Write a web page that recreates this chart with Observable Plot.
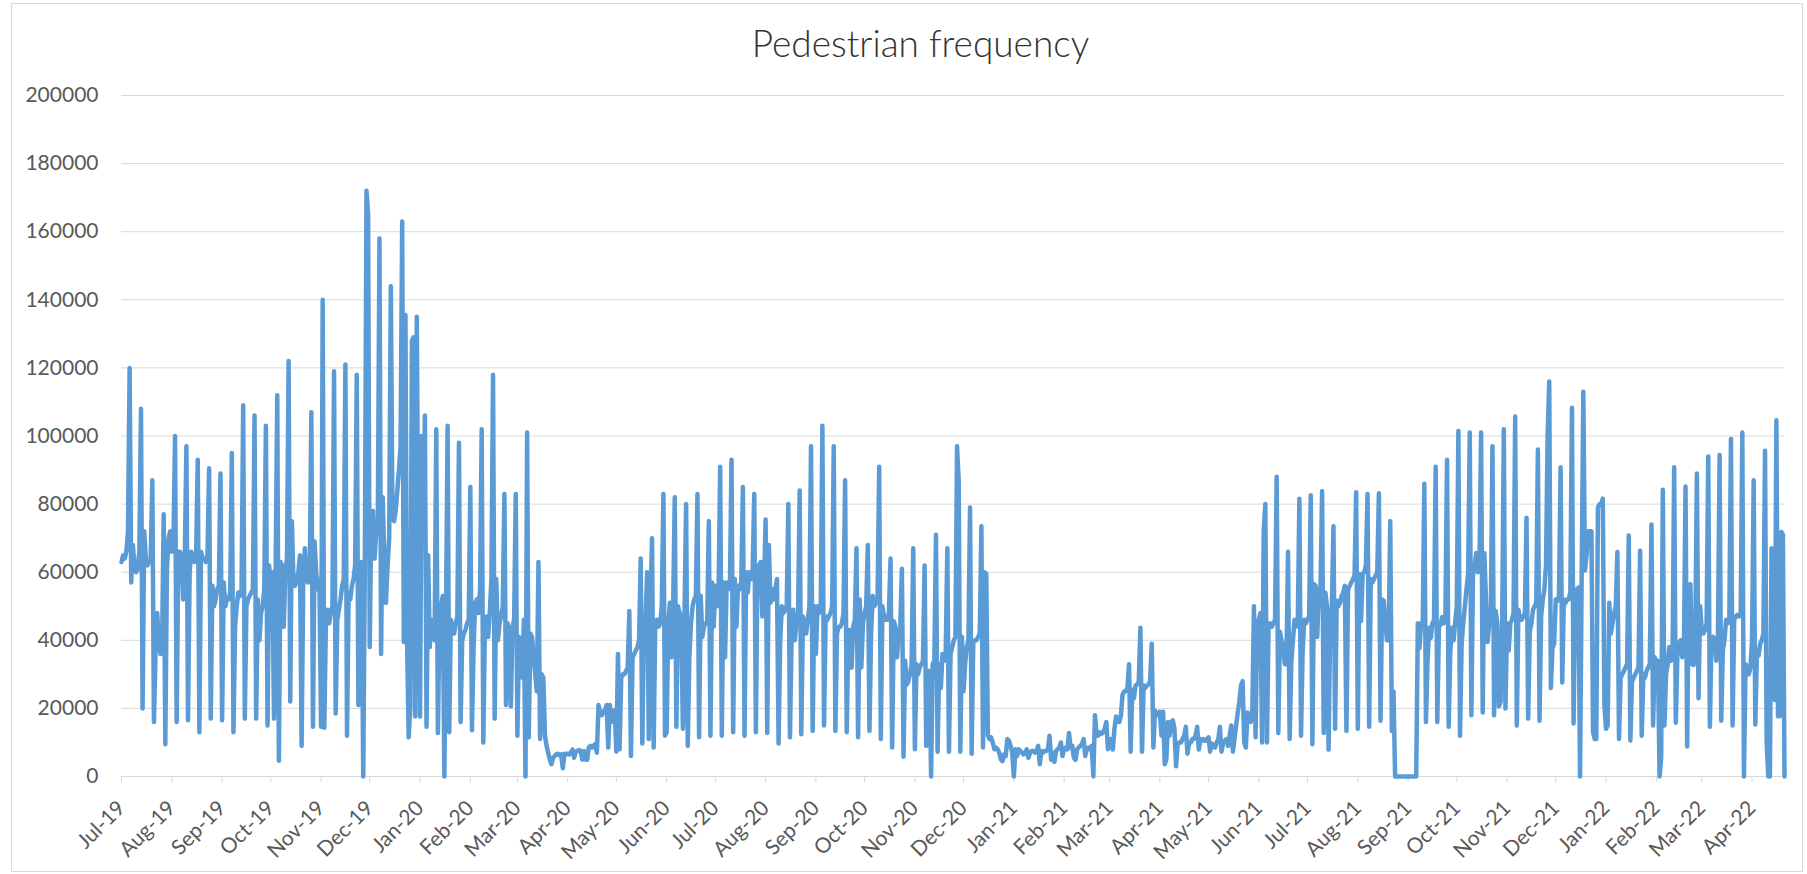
<!DOCTYPE html>
<html><head><meta charset="utf-8">
<script src="https://cdn.jsdelivr.net/npm/d3@7"></script>
<script src="https://cdn.jsdelivr.net/npm/@observablehq/plot@0.6"></script>
<style>
html,body{margin:0;padding:0;background:#fff;}
#wrap{position:relative;width:1807px;height:874px;overflow:hidden;font-family:Lato,"Open Sans",sans-serif;}
#frame{position:absolute;left:11px;top:3px;width:1792px;height:869px;border:1px solid #d9d9d9;box-sizing:border-box;}
#title{position:absolute;left:0;width:1841px;top:20px;text-align:center;font-size:37px;font-weight:300;color:#333;}
#chart{position:absolute;left:0;top:0;}
</style></head><body>
<div id="wrap"><div id="frame"></div><div id="title">Pedestrian frequency</div><div id="chart"></div></div>
<script>
// Daily pedestrian counts in thousands, one row per week (Mon..Sun), starting Mon 1 Jul 2019
const weeks2019H2 = [
63,65,64,66,72,120,57,
68,62,60,61,66,108,20,
72,64,62,63,64,87,16,
37,48,40,36,38,77,9.5,
61,70,72,66,68,100,16,
66,66,65,52,64,97,16.5,
60,66,64,63,65,93,13,
66,64,64,63,65,90.5,17,
56,50,52,55,56,89,16.5,
57,50,52,52,54,95,13,
44,50,54,53,55,109,17,
50,52,53,54,55,106,17,
52,40,48,50,55,103,15,
62,55,60,17,60,112,4.6,
63,62,44,60,64,122,22,
75,57,56,58,60,65,9,
56,67,58,57,58,107,14.6,
69,60,55,58,14.6,140,14.3,
46,49,45,48,50,119,18.5,
46,49,52,56,58,121,12,
54,52,56,58,62,118,21,
62,63,0,64,172,165,38,
78,78,64,72,75,158,36,
82,64,51,62,70,144,76,
75,78,84,90,97,163,39.5,
135.5,40,11.5,20.6,128,129,17.6
];
const weeks2020H1 = [
135,60,17.6,100,75,106,14.6,
65,38,46,44,40,102,12.8,
46,50,53,0,47,103,13,
46,44,42,45,47,98,16,
40,42,43,45,46,85,13.6,
38,51,52,48,55,102,10,
45,47,41,48,58,118,17,
58,40,45,47,50,83,21,
45,42,20.6,44,46,83,12,
41,40,29,46,0,101,11.5,
42,41,35,30,25,63,11,
30,29,12,9,7,5,3.6,
5.5,6,6.5,6.7,6.2,6.5,2.4,
6.7,6.5,6.7,6.5,7,7.9,5.5,
7.3,7.5,7.8,7.5,5,7.5,5,
4.9,8.5,9,8.5,9,9.5,7,
21,19,18,19,19.5,21,8.5,
21,16,19,19.5,7.3,36,8,
29,30,30,31,32,48.6,6,
35,36,37,38,40,64,9.7,
45,46,60,11,50,70,8.5,
45,46,44,45,50,83,12,
13,45,51,35,49,82,14.6,
50,48,47,14,47,80,9,
35,45,50,52,53,83,11.5,
53,41,44,45,45,75,12
];
const weeks2020H2 = [
57,44,56,50,54,91,12,
57,35,57,55,56,93,13,
58,44,56,55,57,85,12,
60,54,60,58,60,83,13,
62,62,63,47,55,75.5,12.8,
68,51,55,52,55,58,9.7,
40,50,48,49,50,80,11.5,
40,49,40,45,48,84,12.4,
47,45,42,46,50,97,13.4,
50,36,50,48,50,103,15,
47,46,47,48,50,97,13.4,
42,44,44,45,48,87,13,
43,43,32,44,46,67,11.5,
52,32,45,48,50,68,13.4,
42,53,50,51,52,91,11,
50,47,46,46,48,64,8.5,
45.6,44,35,42,44,61,5.8,
34,27,28,30,33,67,8,
33,30,32,33,34,62,9,
30,31,0,33,34,71,7.3,
33,26,36,34,36,67,7.3,
36,38,40,41,97,87,7.3,
41,25,33,38,40,79,6.7,
39.5,40,40,41,42,73.5,8.5,
60,59.5,12,11,11.5,10,8,
8.5,8,7,5,4.5,6.5,6
];
const weeks2021H1 = [
11,10.5,9,7,0,8,6,
8,7.5,7,6.5,7,8,5.5,
7,7.5,7.5,7,7.5,9,3.6,
7.5,7,7.5,7.5,8,12,4.9,
7,4.3,7.5,8,8.5,10,6,
8,8.5,8,12.8,8.5,9,5.5,
4.9,8,8.5,9,9.5,11,6,
8,8.5,8,9,0,18,12,
12,13,12.5,13,14,16,8,
10,11,7.9,14,17.6,17,16,
18,24,25,25,26,33,7.3,
25.5,23,26.7,27,28,43.7,7.3,
26.7,26,26.7,27,28,39,8.5,
19.4,18,18,19,12,19,3.6,
5,16,12,16,16.5,14,3,
9.7,10,10,11,12,14.6,6.7,
9.7,10,11,11,12,14.6,7.9,
11,10.5,11,10.5,11,11.5,7.3,
9.7,9,8.5,10,11,14.6,7.3,
10,10.5,11,9,12,15,7.3,
11,15,18.8,22,26.7,28,10,
8.5,18.8,17,16,20,50,11.5,
45.6,46,48,10,72,80,10,
44,45,44,45,46,88,12.8,
42.5,40,38,33,33,66,11,
33.4,40,46,44,45,81.6,12
];
const weeks2021H2 = [
37,46,45,46,47,82.6,9.5,
56.5,56,41,54.7,55,83.8,12.8,
54,50,7.9,46,50,73.5,14,
51.6,50,51,53,54,56,13.4,
55,56,57,58,59,83.5,14,
59.5,45.6,59.5,60,62,83,14.6,
58,57,58,59,60,83.2,16.4,
52,51.6,45,40,40,75,13.4,
25,0,0,0,0,0,0,
0,0,0,0,0,0,0,
0,45,37.7,45,44,86,16,
34,43.7,40.7,45,46,91,16,
44,44.5,46.8,45,47,93,14.6,
36.5,43.7,40,45,50,101.5,12,
39,45,50,55,59.5,101,18,
59.5,62,65.6,60,62,101,18.8,
65.6,52,39.5,45,48,97,18,
48.6,45,20.6,22,45,102,20,
45,37,45,46,48,105.7,15,
49,46,46,47,48,76,17,
42.5,45,49,50,51,96,16.4,
47,52,55,62,100,116,26,
37.7,39,52,51.6,53,90.8,27.6,
52,51,52,52,54,108.3,15.6,
54,55,55.5,0,60,113,60.5,
65,72,72,72,13,11,11
];
const weeks2022 = [
79,80,80,81.6,21,14,15,
51,42,45,48,50,65.9,11,
29,30,31,32,33,70.8,10.6,
28,29,30,31,32,66.3,12,
30,29,31,32,33,74,15,
35,33,34,0,5.7,84.2,15,
30,33,38,34,35,90.8,15.8,
36,39,40,35,37,85.2,8.8,
54.7,56.5,33,32.8,40,89,23,
50,43,42,43,45,94,14.6,
40,41,40,34,42,94.4,16.4,
37,40,46,45,47,99.1,15,
46,47,47.5,47,48,101,0,
33,32,30,32,40,87,15.3,
36,35.5,39,40,42,95.7,10,
0,0,67,40,22.5,104.6,17.7,
17.7,71.8,71,0
];
const yTicks = [0,20000,40000,60000,80000,100000,120000,140000,160000,180000,200000];

const counts = [...weeks2019H2, ...weeks2020H1, ...weeks2020H2, ...weeks2021H1, ...weeks2021H2, ...weeks2022];
const t0 = new Date(Date.UTC(2019, 6, 1));
const data = counts.map((v, i) => ({date: d3.utcDay.offset(t0, i), value: v * 1000}));
const tEnd = data[data.length - 1].date;
const monthTicks = d3.utcMonth.range(t0, tEnd);

const chart = Plot.plot({
  width: 1807, height: 874,
  marginLeft: 121, marginRight: 23, marginTop: 95, marginBottom: 98,
  style: {fontFamily: "Lato, 'Open Sans', sans-serif", fontSize: "21px", color: "#595959", background: "transparent", overflow: "visible"},
  x: {type: "utc", domain: [t0, tEnd]},
  y: {domain: [0, 200000]},
  marks: [
    Plot.gridY(yTicks, {stroke: "#d9d9d9", strokeOpacity: 1, strokeWidth: 1}),
    Plot.ruleY([0], {stroke: "#d9d9d9", strokeWidth: 1}),
    Plot.axisY({ticks: yTicks, tickFormat: d3.format("d"), tickSize: 0, tickPadding: 23, fill: "#595959", label: null}),
    Plot.axisX({ticks: monthTicks, tickFormat: d3.utcFormat("%b-%y"), tickRotate: -45, tickSize: 6, tickPadding: 22, stroke: "#d9d9d9", fill: "#595959", label: null}),
    Plot.lineY(data, {x: "date", y: "value", stroke: "#5b9bd5", strokeWidth: 4.5, strokeLinejoin: "round"})
  ]
});
document.getElementById("chart").appendChild(chart);
</script>
</body></html>
